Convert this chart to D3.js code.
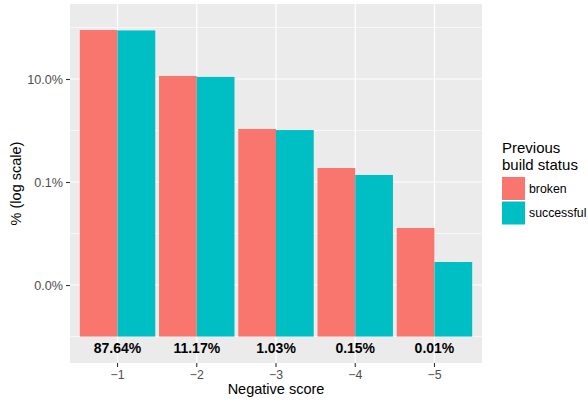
<!DOCTYPE html>
<html>
<head>
<meta charset="utf-8">
<script src="https://cdn.jsdelivr.net/npm/d3@7"></script>
<style>
  html, body { margin: 0; padding: 0; background: #fff; }
  svg { display: block; font-family: "Liberation Sans", Arial, Helvetica, sans-serif; }
</style>
</head>
<body>
<svg id="chart" width="588" height="403"></svg>
<script>
// ---- data ----
const categories = ["-1", "-2", "-3", "-4", "-5"];
const categoryLabels = ["\u22121", "\u22122", "\u22123", "\u22124", "\u22125"];
const seriesNames = ["broken", "successful"];
const brokenValues = [0.893, 0.1145, 0.0107, 0.00187, 0.000128];
const successfulValues = [0.877, 0.1098, 0.0102, 0.00137, 0.000028];
const shareLabels = ["87.64%", "11.17%", "1.03%", "0.15%", "0.01%"];
const yTickValues = [1e-1, 1e-3, 1e-5];
const yTickLabels = ["10.0%", "0.1%", "0.0%"];
const yMinorValues = [1e0, 1e-2, 1e-4, 1e-6];
const barBase = 1e-6;
const labelLevel = 6e-7;
const colors = ["#F8766D", "#00BFC4"];

// ---- layout ----
const svg = d3.select("#chart");
const panel = { left: 70, right: 482, top: 4, bottom: 363 };

const x = d3.scaleBand().domain(categories)
  .range([panel.left, panel.right]).paddingOuter(0.1).paddingInner(0);
const xSub = d3.scaleBand().domain(seriesNames)
  .range([0, x.bandwidth()]).paddingOuter(0.05).paddingInner(0);
const y = d3.scaleLog()
  .domain([Math.pow(10, -6.514), Math.pow(10, 0.456)])
  .range([panel.bottom, panel.top]);

// panel background
svg.append("rect")
  .attr("x", panel.left).attr("y", panel.top)
  .attr("width", panel.right - panel.left).attr("height", panel.bottom - panel.top)
  .attr("fill", "#EBEBEB");

// minor gridlines
svg.append("g").selectAll("line").data(yMinorValues).join("line")
  .attr("x1", panel.left).attr("x2", panel.right)
  .attr("y1", d => y(d)).attr("y2", d => y(d))
  .attr("stroke", "#fff").attr("stroke-width", 0.6);

// major gridlines
svg.append("g").selectAll("line").data(yTickValues).join("line")
  .attr("x1", panel.left).attr("x2", panel.right)
  .attr("y1", d => y(d)).attr("y2", d => y(d))
  .attr("stroke", "#fff").attr("stroke-width", 1.2);
svg.append("g").selectAll("line").data(categories).join("line")
  .attr("x1", d => x(d) + x.bandwidth() / 2).attr("x2", d => x(d) + x.bandwidth() / 2)
  .attr("y1", panel.top).attr("y2", panel.bottom)
  .attr("stroke", "#fff").attr("stroke-width", 1.2);

// bars
const series = [brokenValues, successfulValues];
seriesNames.forEach((s, si) => {
  svg.append("g").selectAll("rect").data(categories).join("rect")
    .attr("x", (c) => x(c) + xSub(s))
    .attr("width", xSub.bandwidth())
    .attr("y", (c, i) => y(series[si][i]))
    .attr("height", (c, i) => y(barBase) - y(series[si][i]))
    .attr("fill", colors[si]);
});

// share labels
svg.append("g").selectAll("text").data(categories).join("text")
  .attr("x", d => x(d) + x.bandwidth() / 2)
  .attr("y", y(labelLevel))
  .attr("dy", "0.36em")
  .attr("text-anchor", "middle")
  .attr("font-size", "14px").attr("font-weight", "bold").attr("fill", "#000")
  .text((d, i) => shareLabels[i]);

// x axis
const xAxis = d3.axisBottom(x).tickSize(4).tickPadding(3)
  .tickFormat((d, i) => categoryLabels[i]);
const gx = svg.append("g").attr("transform", `translate(0,${panel.bottom})`).call(xAxis);
gx.select(".domain").remove();
gx.selectAll(".tick line").attr("stroke", "#333").attr("stroke-width", 1.1);
gx.selectAll(".tick text").attr("fill", "#4D4D4D").attr("font-size", "12.3px")
  .attr("font-family", "Liberation Sans, Arial, sans-serif");

// y axis
const yAxis = d3.axisLeft(y).tickValues(yTickValues).tickSize(4).tickPadding(3)
  .tickFormat((d, i) => yTickLabels[i]);
const gy = svg.append("g").attr("transform", `translate(${panel.left},0)`).call(yAxis);
gy.select(".domain").remove();
gy.selectAll(".tick line").attr("stroke", "#333").attr("stroke-width", 1.1);
gy.selectAll(".tick text").attr("fill", "#4D4D4D").attr("font-size", "12.6px")
  .attr("font-family", "Liberation Sans, Arial, sans-serif");

// axis titles
svg.append("text")
  .attr("x", (panel.left + panel.right) / 2).attr("y", 394)
  .attr("text-anchor", "middle").attr("font-size", "14.5px").attr("fill", "#000")
  .text("Negative score");
svg.append("text")
  .attr("transform", `translate(21,${(panel.top + panel.bottom) / 2}) rotate(-90)`)
  .attr("text-anchor", "middle").attr("font-size", "14.5px").attr("fill", "#000")
  .text("% (log scale)");

// legend
const lg = svg.append("g");
lg.append("text").attr("x", 502).attr("y", 153).attr("font-size", "15px").text("Previous");
lg.append("text").attr("x", 502).attr("y", 170).attr("font-size", "15px").text("build status");
seriesNames.forEach((s, i) => {
  const ky = 177 + i * 24.5;
  lg.append("rect").attr("x", 502).attr("y", ky).attr("width", 23).attr("height", 23)
    .attr("fill", colors[i]);
  lg.append("text").attr("x", 529).attr("y", ky + 11.5).attr("dy", "0.36em")
    .attr("font-size", "12.3px").attr("fill", "#000").text(s);
});
</script>
</body>
</html>
